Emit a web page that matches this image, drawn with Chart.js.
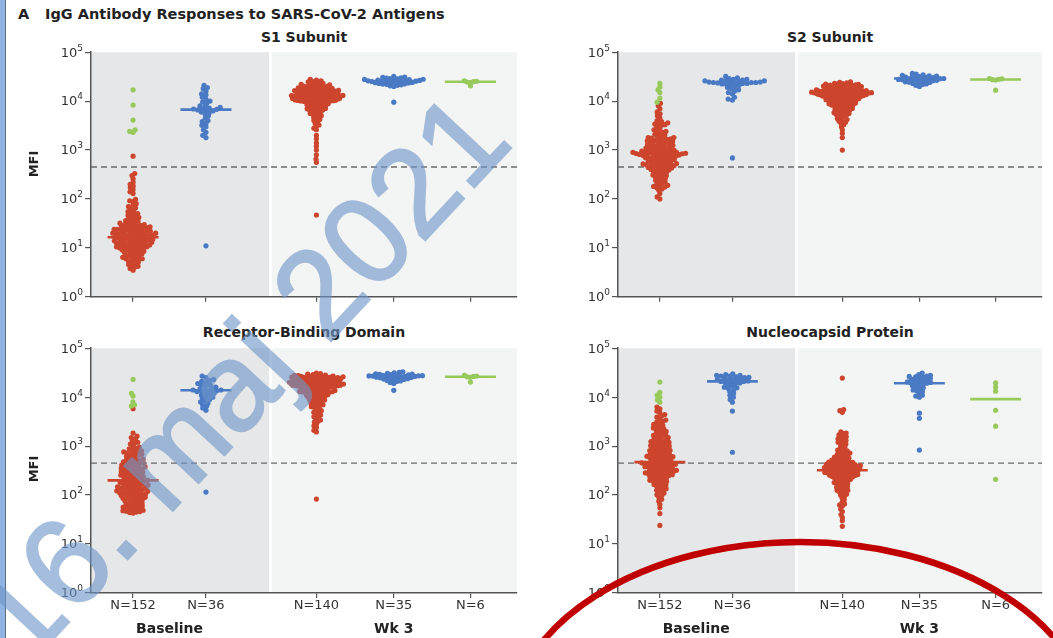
<!DOCTYPE html>
<html>
<head>
<meta charset="utf-8">
<script src="https://cdn.jsdelivr.net/npm/chart.js@4"></script>
<style>
  body { margin: 0; width: 1053px; height: 638px; overflow: hidden; position: relative; background: #fff; font-family: "DejaVu Sans", sans-serif; color: #222; }
  #edge { position: absolute; left: 0; top: 0; width: 5px; height: 638px; background: #8fb3e2; border-right: 1.5px solid #5d6d80; }
  .head { position: absolute; top: 6px; font: bold 14.5px "DejaVu Sans"; color: #222; white-space: nowrap; }
  .ttl { position: absolute; font: bold 14px "DejaVu Sans"; color: #222; transform: translate(-50%, -50%); white-space: nowrap; }
  canvas { position: absolute; }
  #over { position: absolute; left: 0; top: 0; pointer-events: none; }
</style>
</head>
<body>
<div id="edge"></div>
<div class="head" style="left:18px">A</div>
<div class="head" style="left:45px">IgG Antibody Responses to SARS-CoV-2 Antigens</div>
<div class="ttl" style="left:304px;top:37px">S1 Subunit</div>
<div class="ttl" style="left:830px;top:37px">S2 Subunit</div>
<div class="ttl" style="left:304px;top:332px">Receptor-Binding Domain</div>
<div class="ttl" style="left:830px;top:332px">Nucleocapsid Protein</div>

<canvas id="pS1" width="525" height="265" style="left:0;top:42px"></canvas>
<canvas id="pS2" width="520" height="265" style="left:530px;top:42px"></canvas>
<canvas id="pRBD" width="525" height="300" style="left:0;top:338px"></canvas>
<canvas id="pN" width="520" height="300" style="left:530px;top:338px"></canvas>

<svg id="over" width="1053" height="638">
  <g opacity="0.62">
    <text x="26" y="668" transform="rotate(-47 26 668)" font-family="Liberation Sans" font-size="124" fill="#6f96c8" stroke="#6f96c8" stroke-width="2.5">16. maj 2021</text>
  </g>
  <ellipse cx="800" cy="727" rx="290" ry="185" fill="none" stroke="#c00000" stroke-width="6.5"/>
</svg>

<script>
// x categories and tick labels
const categories = ['N=152', 'N=36', 'N=140', 'N=35', 'N=6'];
const groupLabels = ['Baseline', 'Wk 3'];
const yPowers = [0, 1, 2, 3, 4, 5];
const threshold = 450;

// S1 subunit
const s1BaseRed = [750, 330, 300, 260, 220, 200, 185, 170, 155, 140, 130,
  98, 92, 88, 80, 75, 70, 66, 62, 58, 55, 52,
  50, 48, 46, 44, 42, 40, 39, 38, 36, 35, 34, 33, 32, 31, 30, 30, 29, 29, 28, 28, 27, 27,
  26, 26, 25, 25, 24, 24, 23, 23, 22, 22, 22, 21, 21, 20, 20, 20, 19, 19, 19, 18, 18, 18, 17, 17, 17, 16, 16, 16,
  25.5, 24.5, 23.5, 21.5, 20.5, 19.5, 18.5, 17.5, 16.5,
  15.5, 15, 15, 14.5, 14, 14, 13.5, 13, 13, 12.5, 12.5, 12, 12, 11.5, 11.5, 11, 11, 11, 10.5, 10.5, 10, 10, 10, 10,
  15.2, 14.8, 14.2, 13.8, 13.2, 12.8, 12.2, 11.8, 10.8,
  9.6, 9.3, 9, 9, 8.7, 8.5, 8.3, 8, 8, 7.8, 7.5, 7.3, 7, 7, 6.8, 6.6, 6.4, 6.2, 6, 6, 5.8,
  5.6, 5.4, 5.2, 5, 4.8, 4.6, 4.4, 4.2, 4, 3.8, 3.5];
const s1BaseGreen = [17000, 8300, 4100, 2600, 2400, 2300];
const s1BaseBlue = [21000, 19000, 18000, 16000, 14000, 13500, 12000, 11000, 10000, 9500,
  9000, 8000, 7800, 7500, 7200, 7000, 6900, 6800, 6600, 6500,
  6300, 6000, 5800, 5500, 5000, 4500, 4000, 3800, 3500, 3200,
  3000, 2600, 2300, 2000, 1800, 11];
const s1WeekRed = [27800, 26900, 26000, 25300,
  24800, 24100, 23500, 23000, 22500, 22000, 21600, 21200, 20800, 20500, 20200, 20000,
  19800, 19500, 19200, 19000, 18700, 18500, 18200, 18000, 17800, 17600, 17400, 17200, 17000, 16800, 16600, 16500, 16300, 16200, 16000, 15900,
  15800, 15600, 15400, 15300, 15100, 15000, 14800, 14600, 14500, 14300, 14200, 14000, 13900, 13800, 13600, 13500, 13400, 13300, 13200, 13100,
  13000, 12900, 12800, 12700, 12600,
  12500, 12400, 12300, 12200, 12100, 12000, 11900, 11800, 11700, 11600, 11500, 11400, 11300, 11200, 11100, 11000,
  10900, 10800, 10700, 10600, 10500, 10400, 10300, 10200, 10100, 10050, 10000, 10000,
  9900, 9750, 9600, 9450, 9300, 9150, 9000, 8850, 8700, 8550, 8400, 8250, 8100, 8000,
  7850, 7650, 7450, 7300, 7100, 6950, 6800, 6650, 6500, 6350,
  6200, 6000, 5800, 5600, 5400, 5250, 5050,
  4900, 4650, 4400, 4200, 4000, 3800, 3500, 3250, 3050, 2800, 2600,
  2000, 1700, 1400, 1200, 1000, 800, 650, 560, 47];
const s1WeekBlue = [32000, 31000, 30500, 30000, 29500, 29000, 28500, 28000, 27700, 27400,
  27100, 26800, 26500, 26200, 26000, 25800, 25600, 25400, 25200, 25000,
  24700, 24400, 24100, 23800, 23500, 23200, 22900, 22600, 22300, 22000,
  21500, 21000, 20500, 20000, 9500];
const s1WeekGreen = [26000, 25500, 25000, 24500, 24000, 20500];
const s1Medians = [16.5, 6700, 11000, 25600, 24800];

// S2 subunit
const s2BaseRed = [9000, 8000, 7000, 6000, 5500, 5000, 4500, 4000, 3800, 3600, 3500, 3400, 3300, 3200,
  3000, 2800, 2600, 2500, 2400, 2200, 2100, 2000, 1900, 1800, 1800, 1700, 1700, 1600, 1600, 1500, 1500, 1500,
  2300, 1950, 1750, 1650, 1550, 1250, 1180, 1080, 1020,
  1450, 1400, 1400, 1350, 1300, 1300, 1250, 1200, 1200, 1150, 1100, 1100, 1050, 1000, 1000, 1000, 980, 950, 950, 920, 900, 900, 900,
  880, 870, 860, 850, 850, 840, 830, 820, 800, 800, 780, 760, 750, 740, 720, 700, 700, 680, 660, 650, 640, 620, 600, 600,
  890, 810, 790, 770, 730, 690, 630,
  590, 570, 560, 550, 540, 520, 510, 500, 500, 490, 480, 470, 460, 450, 440, 430, 420, 410, 400, 400, 530, 480,
  390, 370, 360, 350, 340, 330, 320, 310, 300, 290, 280, 270, 260, 250, 240, 230, 220, 210, 200,
  190, 185, 180, 175, 170, 160, 150, 130, 110, 100];
const s2BaseGreen = [23000, 19500, 17000, 15000, 11500, 9500];
const s2BaseBlue = [32000, 30000, 29000, 28000, 28000, 27000, 27000, 26000, 26000, 25500,
  25000, 25000, 24500, 24500, 24000, 24000, 24000, 23500, 23500, 23000,
  23000, 22500, 22000, 21500, 21000, 20000, 19000, 18000, 17000, 16000,
  15000, 14000, 12000, 11000, 10500, 690];
const s2WeekRed = [24800, 24200, 23600, 23100, 22700, 22400,
  22200, 21900, 21700, 21500, 21300, 21000, 20800, 20600, 20300, 20100,
  19900, 19700, 19500, 19300, 19100, 18900, 18700, 18500, 18300, 18100, 17900, 17700,
  17500, 17300, 17100, 16900, 16800, 16700, 16500, 16400, 16300, 16100, 16000, 15900,
  15800, 15700, 15600, 15500, 15400, 15300, 15200, 15100, 15000, 14900, 14800, 14700, 14600, 14500, 14400, 14300,
  14200, 14100, 14000, 13900, 13800, 13700, 13600, 13500, 13400, 13300, 13200, 13000, 12900, 12800, 12700,
  12600, 12500, 12400, 12300, 12200, 12000, 11900, 11800, 11600, 11500, 11400, 11200, 11100, 11000, 10800, 10700,
  10600, 10500, 10300, 10200, 10100, 10000,
  9900, 9700, 9600, 9400, 9300, 9100, 9000, 8800, 8700, 8600, 8400, 8300, 8200, 8100, 8000,
  7900, 7700, 7500, 7300, 7100, 6900, 6800, 6600, 6500, 6400,
  6200, 6000, 5800, 5600, 5500, 5300, 5200, 5050,
  4900, 4600, 4400, 4200, 4000, 3900, 3700, 3500, 3300,
  3000, 2600, 2200, 1800, 1000];
const s2WeekBlue = [37000, 35500, 34500, 33500, 33000, 32500, 32000, 31500, 31000, 30600,
  30200, 29800, 29400, 29000, 28700, 28400, 28100, 27800, 27500, 27200,
  26900, 26600, 26300, 26000, 25600, 25200, 24800, 24400, 24000, 23500,
  23000, 22400, 21800, 21000, 20000];
const s2WeekGreen = [29000, 28500, 28000, 27500, 27000, 16700];
const s2Medians = [850, 24000, 13000, 29000, 27700];

// receptor-binding domain
const rbdBaseRed = [5800, 1850, 1600, 1400, 1300, 1200, 1100, 1000, 950, 900, 850,
  800, 780, 750, 720, 700, 680, 650, 620, 600, 580, 560, 540, 520, 500, 490, 480, 460, 450, 440, 420, 410, 400,
  1500, 1150, 880, 760, 660, 530, 470, 430, 375, 345, 315, 285, 255,
  390, 380, 370, 360, 350, 340, 330, 320, 310, 300, 295, 290, 280, 270, 265, 260, 250, 245, 240, 235, 230, 225, 220, 215, 210, 205, 200,
  198, 195, 190, 185, 180, 175, 170, 165, 160, 155, 150, 148, 145, 140, 135, 130, 128, 125, 120, 118, 115, 112, 110, 108, 105, 102, 100,
  192, 178, 168, 158, 152, 143, 138, 132, 122, 116, 106, 96, 86, 76, 66, 63, 57, 53, 49, 47, 44,
  98, 95, 92, 90, 88, 85, 82, 80, 78, 75, 72, 70, 68, 65, 62, 60, 58, 56, 54, 52, 50, 48, 46, 45, 43];
const rbdBaseGreen = [23000, 12000, 10500, 8000, 7000, 6600];
const rbdBaseBlue = [27000, 25000, 23000, 22000, 21000, 20000, 19000, 18000, 17500, 17000,
  16000, 15500, 15000, 14500, 14000, 14000, 13500, 13500, 13000, 13000,
  12500, 12000, 11500, 11000, 10500, 10000, 9500, 9000, 8500, 8000,
  7500, 7000, 6500, 6000, 5400, 115];
const rbdWeekRed = [31000, 30200, 29500, 28900, 28300,
  27900, 27600, 27300, 27000, 26800, 26600, 26400, 26200, 26000, 25800, 25600, 25400, 25200, 25050,
  24900, 24700, 24500, 24300, 24100, 23900, 23700, 23500, 23300, 23100, 22900, 22700, 22500,
  22300, 22100, 21900, 21700, 21500, 21300, 21100, 20900, 20700, 20500, 20300, 20100, 20000,
  19900, 19750, 19600, 19450, 19300, 19150, 19000, 18850, 18700, 18550, 18400, 18250, 18100, 17950, 17800,
  17650, 17500, 17350, 17200, 17050, 16900, 16750, 16600, 16450, 16300, 16200, 16100, 16000, 15900,
  15700, 15400, 15100, 14900, 14600, 14300, 14100, 13900, 13700, 13500, 13300, 13100, 13000, 12900, 12800, 12700, 12600, 12550,
  12400, 12100, 11800, 11600, 11400, 11200, 11000, 10800, 10600, 10400, 10200, 10000,
  9800, 9500, 9300, 9000, 8800, 8600, 8400, 8200, 8000,
  7800, 7500, 7200, 7000, 6800, 6600, 6400,
  6200, 5900, 5600, 5300, 5100, 4900, 4600, 4300, 4000,
  3900, 3600, 3400, 3200, 3100, 2800, 2600, 2400, 2100, 1950, 83];
const rbdWeekBlue = [33000, 32000, 31200, 30600, 30000, 29600, 29200, 28800, 28400, 28100,
  27800, 27500, 27300, 27100, 26900, 26700, 26500, 26300, 26100, 25900,
  25600, 25300, 25000, 24600, 24200, 23800, 23400, 23000, 22500, 22000,
  21500, 21000, 20000, 19000, 13800];
const rbdWeekGreen = [28000, 27000, 26500, 26000, 25500, 20300];
const rbdMedians = [200, 13800, 16600, 26500, 26200];

// nucleocapsid protein
const ncpBaseRed = [6300, 5800, 5200, 4800, 4400, 4100, 3900, 3600, 3400, 3200,
  3100, 2900, 2800, 2650, 2550, 2450, 2350, 2250, 2150, 2100, 2000,
  1950, 1850, 1780, 1700, 1650, 1600, 1560, 1500, 1450, 1400, 1350, 1300, 1270,
  1240, 1200, 1170, 1140, 1110, 1080, 1050, 1020, 1000,
  980, 950, 920, 890, 860, 840, 820, 810, 800,
  780, 760, 740, 720, 700, 690, 670, 660, 650, 640,
  620, 610, 600, 590, 580, 570, 560, 550, 540, 520, 505,
  495, 485, 475, 465, 455, 450, 445, 440, 430, 425, 420, 410, 405, 400,
  395, 390, 380, 375, 370, 360, 350, 345, 340, 335, 330, 320, 318,
  312, 305, 300, 295, 290, 285, 280, 275, 270, 265, 260, 252,
  250, 245, 240, 235, 230, 225, 215, 210, 205, 200,
  195, 190, 185, 180, 175, 165, 160, 155, 150, 140, 135, 128,
  125, 118, 110, 102, 98, 90, 82, 75, 65, 55, 42, 24];
const ncpBaseGreen = [20300, 12500, 11000, 10000, 8800, 7900];
const ncpBaseBlue = [30000, 29000, 28000, 28000, 27000, 27000, 26000, 25500, 25000, 24500,
  24000, 23500, 23000, 22500, 22000, 21500, 21000, 21000, 20500, 20000,
  19500, 19000, 18000, 17000, 16000, 15500, 15000, 14000, 13000, 12000,
  11000, 10000, 9000, 7900, 5200, 750];
const ncpWeekRed = [24500, 5600, 5300, 4900,
  1950, 1850, 1800, 1700, 1600, 1550, 1450, 1400, 1350, 1300, 1250, 1200, 1150, 1100, 1050,
  980, 920, 870, 830, 800, 780, 750, 720, 700, 680, 660, 640,
  620, 600, 590, 570, 560, 540, 530, 520, 510, 505,
  495, 480, 470, 460, 450, 440, 430, 425, 420, 410, 405, 400, 420, 445, 465,
  395, 390, 385, 380, 375, 370, 365, 360, 355, 350, 345, 340, 335, 330, 325, 320, 330, 345, 360, 385,
  315, 310, 305, 300, 295, 290, 285, 280, 275, 270, 265, 260, 255, 252, 300, 285, 270, 262,
  250, 245, 240, 235, 230, 225, 220, 215, 210, 205, 200, 240,
  195, 190, 185, 180, 175, 170, 165, 160,
  158, 150, 145, 140, 135, 130, 126, 125, 120, 115, 110, 105, 100,
  95, 88, 80, 72, 66, 63, 60, 52, 46, 40, 35, 30, 23];
const ncpWeekBlue = [31000, 29000, 28000, 27000, 26500, 26000, 25500, 25000, 24000, 23500,
  23000, 22000, 21500, 21000, 20500, 20000, 19500, 19300, 19000, 18500,
  18000, 17000, 16000, 15500, 15000, 14000, 13500, 13000, 12000, 11000,
  10500, 10000, 4700, 3700, 830];
const ncpWeekGreen = [19500, 16000, 13200, 5400, 2560, 210];
const ncpMedians = [470, 21000, 322, 19300, 9100];

// layout of the category axis (linear units, ~75 px each)
const X_MAX = 5.67;
const CAT_X = [0.56, 1.53, 3.0, 4.03, 5.05];
const SHADE_END = 2.37, LIGHT_START = 2.41;
const PX_PER_X = 426 / X_MAX;
const PX_PER_DECADE = 245 / 5;
const GAP = 3.2;
// horizontal looseness of the swarm in each column
const SPREAD = [1.1, 1.4, 0.9, 1.2, 1.0];

const RED = '#cc452c', BLUE = '#4a7ac4', GREEN = '#97c95b';
const COL_COLORS = [RED, BLUE, RED, BLUE, GREEN];

// simple beeswarm: offsets in px so dots do not sit on top of each other
function swarm(values, sx) {
  const items = values.map((v, i) => ({ i, y: Math.log10(v) * PX_PER_DECADE, x: 0 }));
  const sorted = items.slice().sort((a, b) => a.y - b.y);
  const placed = [];
  for (const p of sorted) {
    const near = placed.filter(q => Math.abs(q.y - p.y) < GAP);
    const cands = [0];
    near.forEach(q => {
      const dx = sx * Math.sqrt(GAP * GAP - (q.y - p.y) ** 2);
      cands.push(q.x - dx, q.x + dx);
    });
    cands.sort((a, b) => Math.abs(a) - Math.abs(b));
    for (const c of cands) {
      if (near.every(q => ((q.x - c) / sx) ** 2 + (q.y - p.y) ** 2 >= GAP * GAP - 0.01)) { p.x = c; break; }
    }
    placed.push(p);
  }
  return items.map(p => p.x);
}

const panelPlugin = {
  id: 'panel',
  beforeDraw(chart) {
    const { ctx, chartArea: a, scales: { x } } = chart;
    ctx.save();
    ctx.fillStyle = '#e6e7e8';
    ctx.fillRect(a.left, a.top, x.getPixelForValue(SHADE_END) - a.left, a.bottom - a.top);
    ctx.fillStyle = '#f3f4f4';
    const lx = x.getPixelForValue(LIGHT_START);
    ctx.fillRect(lx, a.top, a.right - lx, a.bottom - a.top);
    ctx.restore();
  },
  afterDraw(chart, args, o) {
    const { ctx, chartArea: a, scales: { x, y } } = chart;
    ctx.save();
    ctx.fillStyle = '#333';
    ctx.textBaseline = 'middle';
    ctx.textAlign = 'right';
    yPowers.forEach(p => {
      const py = y.getPixelForValue(Math.pow(10, p));
      const right = a.left - 8;
      ctx.font = '9px "DejaVu Sans"';
      ctx.fillText(String(p), right, py - 4);
      const w = ctx.measureText(String(p)).width;
      ctx.font = '13px "DejaVu Sans"';
      ctx.fillText('10', right - w, py + 1);
    });
    if (o.showX) {
      ctx.textAlign = 'center';
      ctx.font = '13px "DejaVu Sans"';
      categories.forEach((c, i) => ctx.fillText(c, x.getPixelForValue(CAT_X[i]), a.bottom + 13));
      ctx.font = 'bold 14px "DejaVu Sans"';
      ctx.fillStyle = '#222';
      ctx.fillText(groupLabels[0], x.getPixelForValue((CAT_X[0] + CAT_X[1]) / 2), a.bottom + 36);
      ctx.fillText(groupLabels[1], x.getPixelForValue(CAT_X[3]), a.bottom + 36);
    }
    if (o.mfiY) {
      ctx.translate(35, o.mfiY);
      ctx.rotate(-Math.PI / 2);
      ctx.textAlign = 'center';
      ctx.font = 'bold 13px "DejaVu Sans"';
      ctx.fillStyle = '#222';
      ctx.fillText('MFI', 0, 0);
    }
    ctx.restore();
  }
};

function buildPanel(id, groups, medians, opts) {
  const datasets = [];
  medians.forEach((m, c) => {
    datasets.push({
      data: [{ x: CAT_X[c] - 0.34, y: m }, { x: CAT_X[c] + 0.34, y: m }],
      showLine: true, borderColor: COL_COLORS[c], borderWidth: 2.6, pointRadius: 0, order: 0
    });
  });
  groups.forEach((parts, c) => {
    const vals = [], cols = [];
    parts.forEach(([values, color]) => values.forEach(v => { vals.push(v); cols.push(color); }));
    const off = swarm(vals, SPREAD[c]);
    datasets.push({
      data: vals.map((v, i) => ({ x: CAT_X[c] + off[i] / PX_PER_X, y: v })),
      pointBackgroundColor: cols, pointBorderWidth: 0, pointRadius: 2.6, order: 1
    });
  });
  datasets.push({
    data: [{ x: 0, y: threshold }, { x: X_MAX, y: threshold }],
    showLine: true, borderColor: '#6a6a6a', borderWidth: 1.4, borderDash: [6, 4], pointRadius: 0, order: 2
  });

  new Chart(document.getElementById(id), {
    type: 'scatter',
    data: { datasets },
    options: {
      responsive: false,
      animation: false,
      layout: { padding: { top: 10, right: 8, left: 0, bottom: 0 } },
      plugins: { legend: { display: false }, tooltip: { enabled: false }, panel: opts },
      scales: {
        x: {
          type: 'linear', min: 0, max: X_MAX,
          afterBuildTicks: s => { s.ticks = CAT_X.map(v => ({ value: v })); },
          afterFit: s => { s.height = opts.showX ? 45 : 10; },
          ticks: { autoSkip: false, callback: () => '' },
          grid: { drawOnChartArea: false, drawTicks: true, tickLength: 5, color: '#555', lineWidth: 1.2 },
          border: { display: true, color: '#555', width: 1.5 }
        },
        y: {
          type: 'logarithmic', min: 1, max: 100000,
          afterBuildTicks: s => { s.ticks = yPowers.map(p => ({ value: Math.pow(10, p) })); },
          afterFit: s => { s.width = opts.yWidth; },
          ticks: { autoSkip: false, callback: () => '' },
          grid: { drawOnChartArea: false, drawTicks: true, tickLength: 6, color: '#555', lineWidth: 1.2 },
          border: { display: true, color: '#555', width: 1.5 }
        }
      }
    },
    plugins: [panelPlugin]
  });
}

buildPanel('pS1',
  [[[s1BaseRed, RED], [s1BaseGreen, GREEN]], [[s1BaseBlue, BLUE]], [[s1WeekRed, RED]], [[s1WeekBlue, BLUE]], [[s1WeekGreen, GREEN]]],
  s1Medians, { yWidth: 91, showX: false, mfiY: 122 });
buildPanel('pS2',
  [[[s2BaseRed, RED], [s2BaseGreen, GREEN]], [[s2BaseBlue, BLUE]], [[s2WeekRed, RED]], [[s2WeekBlue, BLUE]], [[s2WeekGreen, GREEN]]],
  s2Medians, { yWidth: 88, showX: false, mfiY: 0 });
buildPanel('pRBD',
  [[[rbdBaseRed, RED], [rbdBaseGreen, GREEN]], [[rbdBaseBlue, BLUE]], [[rbdWeekRed, RED]], [[rbdWeekBlue, BLUE]], [[rbdWeekGreen, GREEN]]],
  rbdMedians, { yWidth: 91, showX: true, mfiY: 131 });
buildPanel('pN',
  [[[ncpBaseRed, RED], [ncpBaseGreen, GREEN]], [[ncpBaseBlue, BLUE]], [[ncpWeekRed, RED]], [[ncpWeekBlue, BLUE]], [[ncpWeekGreen, GREEN]]],
  ncpMedians, { yWidth: 88, showX: true, mfiY: 0 });
</script>
</body>
</html>
